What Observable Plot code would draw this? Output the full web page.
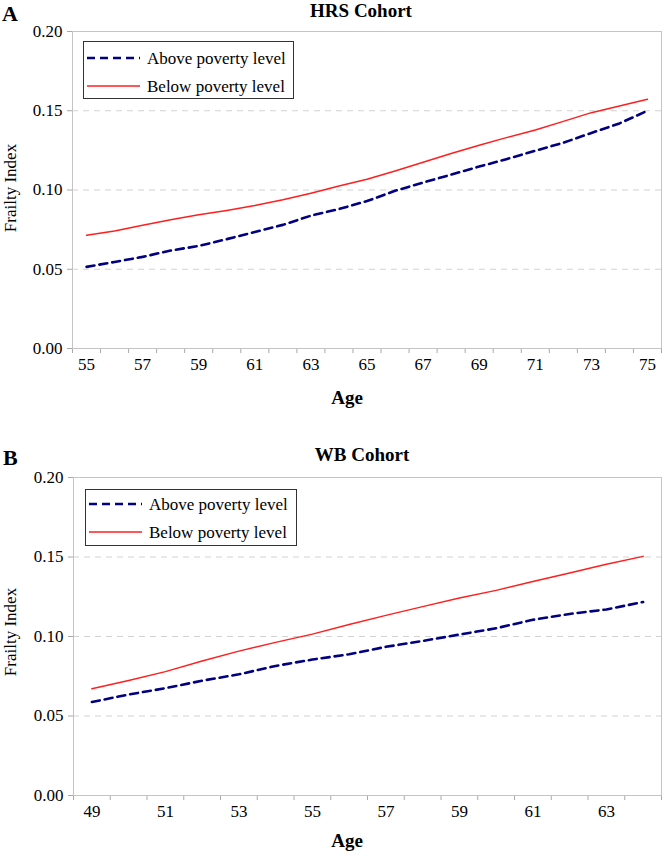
<!DOCTYPE html>
<html>
<head>
<meta charset="utf-8">
<script src="https://cdn.jsdelivr.net/npm/d3@7"></script>
<script src="https://cdn.jsdelivr.net/npm/@observablehq/plot@0.6"></script>
<style>
  html, body { margin: 0; padding: 0; background: #fff; }
  #wrap { position: relative; width: 664px; height: 853px; overflow: hidden; font-family: "Liberation Serif", "Times New Roman", serif; color: #000; }
  .abs { position: absolute; white-space: nowrap; line-height: 1; }
  .panel { position: absolute; left: 0; }
  .panel svg, .panel svg text { font-family: "Liberation Serif", "Times New Roman", serif !important; }
  .panel svg [aria-label^="y-axis"] text { font-size: 17px !important; }
  .panel svg [aria-label^="x-axis"] line, .panel svg [aria-label^="x-axis"] path,
  .panel svg [aria-label^="y-axis"] line, .panel svg [aria-label^="y-axis"] path { stroke: #a8a8a8; }
  .legend { position: absolute; border: 1.5px solid #333; background: #fff; box-sizing: border-box; }
  .legend .row { position: absolute; left: 0; height: 20px; }
  .legend .row svg { position: absolute; left: 3px; top: 0; }
  .legend .row span { position: absolute; left: 63px; top: 2px; font-size: 17px; white-space: nowrap; line-height: 1; }
</style>
</head>
<body>
<div id="wrap"></div>
<script>
// ---- data ----
const seriesNames = ["Above poverty level", "Below poverty level"];
const yTicks = [0, 0.05, 0.10, 0.15, 0.20];

// Panel A: HRS cohort
const hrsTitle = "HRS Cohort";
const hrsAges = [55, 56, 57, 58, 59, 60, 61, 62, 63, 64, 65, 66, 67, 68, 69, 70, 71, 72, 73, 74, 75];
const hrsAbove = [0.0515, 0.0546, 0.0578, 0.0618, 0.0647, 0.0690, 0.0735, 0.0780, 0.0838, 0.0880, 0.0930, 0.0995, 0.1047, 0.1097, 0.1148, 0.1196, 0.1248, 0.1298, 0.1360, 0.1420, 0.1500];
const hrsBelow = [0.0714, 0.0741, 0.0777, 0.0812, 0.0844, 0.0871, 0.0902, 0.0938, 0.0980, 0.1025, 0.1068, 0.1120, 0.1175, 0.1230, 0.1282, 0.1332, 0.1378, 0.1433, 0.1488, 0.1530, 0.1573];
const hrsTickLabels = [55, 57, 59, 61, 63, 65, 67, 69, 71, 73, 75];

// Panel B: WB cohort
const wbTitle = "WB Cohort";
const wbAges = [49, 50, 51, 52, 53, 54, 55, 56, 57, 58, 59, 60, 61, 62, 63, 64];
const wbAbove = [0.0588, 0.0635, 0.0675, 0.0722, 0.0762, 0.0815, 0.0855, 0.0888, 0.0935, 0.0972, 0.1012, 0.1052, 0.1105, 0.1142, 0.1170, 0.1217];
const wbBelow = [0.0671, 0.0723, 0.0779, 0.0846, 0.0908, 0.0963, 0.1015, 0.1075, 0.1133, 0.1188, 0.1242, 0.1290, 0.1346, 0.1400, 0.1455, 0.1504];
const wbTickLabels = [49, 51, 53, 55, 57, 59, 61, 63];

const xLabel = "Age";
const yLabel = "Frailty Index";

const aboveColor = "#000080";
const belowColor = "#ff1f1f";

// ---- drawing ----
const wrap = document.getElementById("wrap");
const serif = "'Liberation Serif', 'Times New Roman', serif";

function panel({ages, above, below, tickLabels, top, height, marginTop, marginBottom, marginLeft}) {
  const lo = ages[0] - 0.5, hi = ages[ages.length - 1] + 0.5;
  const bounds = ages.map(a => a - 0.5).concat([hi]);
  const chart = Plot.plot({
    width: 664,
    height,
    marginTop,
    marginBottom,
    marginLeft,
    marginRight: 3,
    style: {fontFamily: serif, fontSize: "17px", color: "#000", background: "transparent", overflow: "visible"},
    x: {domain: [lo, hi], ticks: bounds, tickSize: 5, tickFormat: () => "", label: null},
    y: {domain: [0, 0.2], ticks: yTicks, tickSize: 5, tickPadding: 5, tickFormat: d3.format(".2f"), label: null},
    marks: [
      Plot.ruleY([0.05, 0.10, 0.15], {stroke: "#d2d2d2", strokeDasharray: "6,5"}),
      Plot.frame({stroke: "#c4c4c4"}),
      Plot.line(ages, {x: d => d, y: (d, i) => below[i], stroke: belowColor, strokeWidth: 1.5}),
      Plot.line(ages, {x: d => d, y: (d, i) => above[i], stroke: aboveColor, strokeWidth: 2.6, strokeDasharray: "8,5"}),
      Plot.text(tickLabels, {x: d => d, frameAnchor: "bottom", dy: 21, fontSize: 17, fontFamily: serif, fill: "#000"})
    ]
  });
  const div = document.createElement("div");
  div.className = "panel";
  div.style.top = top + "px";
  div.appendChild(chart);
  wrap.appendChild(div);
}

function text(str, {left, top, size, bold, center, rotate}) {
  const d = document.createElement("div");
  d.className = "abs";
  d.textContent = str;
  d.style.fontSize = size + "px";
  if (bold) d.style.fontWeight = "bold";
  d.style.left = left + "px";
  d.style.top = top + "px";
  if (rotate) d.style.transform = "translate(-50%, -50%) rotate(-90deg)";
  else if (center) d.style.transform = "translateX(-50%)";
  wrap.appendChild(d);
}

function legend({left, top, width, height, rows}) {
  const lg = document.createElement("div");
  lg.className = "legend";
  Object.assign(lg.style, {left: left + "px", top: top + "px", width: width + "px", height: height + "px"});
  const styles = [
    {stroke: aboveColor, width: 2.6, dash: "8,5"},
    {stroke: belowColor, width: 1.5, dash: null}
  ];
  seriesNames.forEach((name, i) => {
    const row = document.createElement("div");
    row.className = "row";
    row.style.top = (rows[i] - 10) + "px";
    row.style.width = width + "px";
    const s = styles[i];
    row.innerHTML = `<svg width="54" height="20"><line x1="0" x2="53" y1="10" y2="10" stroke="${s.stroke}" stroke-width="${s.width}" ${s.dash ? `stroke-dasharray="${s.dash}"` : ""}/></svg><span>${name}</span>`;
    lg.appendChild(row);
  });
  wrap.appendChild(lg);
}

// Panel A
panel({ages: hrsAges, above: hrsAbove, below: hrsBelow, tickLabels: hrsTickLabels,
       top: 0, height: 420, marginTop: 31, marginBottom: 72, marginLeft: 72});
// Panel B
panel({ages: wbAges, above: wbAbove, below: wbBelow, tickLabels: wbTickLabels,
       top: 420, height: 433, marginTop: 57, marginBottom: 58, marginLeft: 73});

text("A", {left: 2, top: 3, size: 22, bold: true});
text(hrsTitle, {left: 361, top: 1, size: 19, bold: true, center: true});
text(yLabel, {left: 10, top: 188, size: 17, rotate: true});
text(xLabel, {left: 347, top: 388, size: 19, bold: true, center: true});

text("B", {left: 3, top: 447, size: 22, bold: true});
text(wbTitle, {left: 362, top: 445, size: 19, bold: true, center: true});
text(yLabel, {left: 10, top: 632, size: 17, rotate: true});
text(xLabel, {left: 347, top: 831, size: 19, bold: true, center: true});

legend({left: 83, top: 41, width: 211, height: 58, rows: [16, 44]});
legend({left: 85, top: 489, width: 212, height: 57, rows: [14, 42]});
</script>
</body>
</html>
